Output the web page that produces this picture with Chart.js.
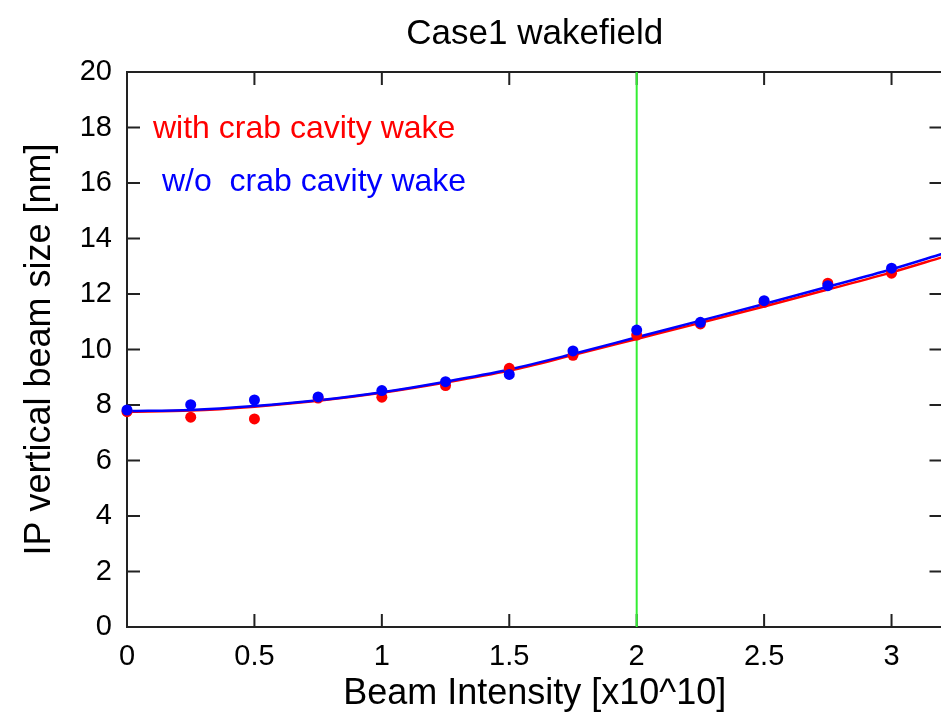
<!DOCTYPE html>
<html>
<head>
<meta charset="utf-8">
<script src="https://cdn.jsdelivr.net/npm/chart.js@4.4.1/dist/chart.umd.min.js"></script>
<style>
  html, body { margin: 0; padding: 0; background: #fff; overflow: hidden; }
  #wrap { width: 948px; height: 720px; position: relative; }
</style>
</head>
<body>
<div id="wrap"><canvas id="wake"></canvas></div>
<script>
// Simulated points (x in 1e10 particles)
const intensity = [0, 0.25, 0.5, 0.75, 1, 1.25, 1.5, 1.75, 2, 2.25, 2.5, 2.75, 3];
const sizeWithWake = [7.76, 7.56, 7.5, 8.25, 8.28, 8.7, 9.32, 9.79, 10.52, 10.92, 11.7, 12.39, 12.75];
const sizeWithoutWake = [7.82, 8.01, 8.18, 8.29, 8.52, 8.84, 9.1, 9.95, 10.7, 10.98, 11.76, 12.3, 12.93];

// Fitted curves
const fitIntensity = [0, 0.25, 0.5, 0.75, 1, 1.25, 1.5, 1.75, 2, 2.25, 2.5, 2.75, 3, 3.2];
const fitWithWake = [7.76, 7.8, 7.94, 8.15, 8.44, 8.81, 9.24, 9.8, 10.38, 10.96, 11.55, 12.16, 12.78, 13.33];
const fitWithoutWake = [7.78, 7.82, 7.96, 8.17, 8.46, 8.84, 9.28, 9.84, 10.44, 11.04, 11.64, 12.26, 12.89, 13.45];

// Vertical marker at the design intensity
const markerIntensity = [2, 2];
const markerSize = [0, 20];

const legendLabels = ['with crab cavity wake', 'w/o  crab cavity wake'];

const FONT = "'Liberation Sans', Arial, Helvetica, sans-serif";
const RED = '#ff0000';
const BLUE = '#0000ff';
const pts = (xs, ys) => xs.map((x, i) => ({ x, y: ys[i] }));

// frame with inward ticks on all sides (under the data), title and text legend
const framePlugin = {
  id: 'frame',
  beforeDatasetsDraw(chart) {
    const { ctx, chartArea: a, scales: { x, y } } = chart;
    const tl = 13;
    ctx.save();
    ctx.strokeStyle = '#222';
    ctx.lineWidth = 2;
    ctx.strokeRect(a.left, a.top, a.right - a.left, a.bottom - a.top);
    ctx.beginPath();
    x.ticks.forEach((t) => {
      const px = x.getPixelForValue(t.value);
      if (px <= a.left + 1) return;
      ctx.moveTo(px, a.bottom); ctx.lineTo(px, a.bottom - tl);
      ctx.moveTo(px, a.top); ctx.lineTo(px, a.top + tl);
    });
    y.ticks.forEach((t) => {
      const py = y.getPixelForValue(t.value);
      if (py >= a.bottom - 1 || py <= a.top + 1) return;
      ctx.moveTo(a.left, py); ctx.lineTo(a.left + tl, py);
      ctx.moveTo(a.right, py); ctx.lineTo(a.right - tl, py);
    });
    ctx.stroke();
    ctx.restore();
  },
  afterDraw(chart) {
    const { ctx, chartArea: a } = chart;
    ctx.save();
    ctx.fillStyle = '#000';
    ctx.font = `35px ${FONT}`;
    ctx.textAlign = 'center';
    ctx.textBaseline = 'alphabetic';
    ctx.fillText('Case1 wakefield', (a.left + a.right) / 2, 44);

    ctx.font = `32px ${FONT}`;
    ctx.textAlign = 'left';
    ctx.fillStyle = RED;
    ctx.fillText(legendLabels[0], 153, 138);
    ctx.fillStyle = BLUE;
    ctx.fillText(legendLabels[1], 162, 191);
    ctx.restore();
  },
};

const chart = new Chart(document.getElementById('wake'), {
  type: 'scatter',
  data: {
    datasets: [
      {
        label: legendLabels[1],
        data: pts(intensity, sizeWithoutWake),
        backgroundColor: BLUE,
        borderColor: BLUE,
        pointRadius: 5.5,
        pointBorderWidth: 0,
        clip: false,
        order: 1,
      },
      {
        label: legendLabels[0],
        data: pts(intensity, sizeWithWake),
        backgroundColor: RED,
        borderColor: RED,
        pointRadius: 5.5,
        pointBorderWidth: 0,
        clip: false,
        order: 2,
      },
      {
        label: 'fit w/o',
        type: 'line',
        data: pts(fitIntensity, fitWithoutWake),
        borderColor: BLUE,
        borderWidth: 2.5,
        pointRadius: 0,
        cubicInterpolationMode: 'monotone',
        order: 3,
      },
      {
        label: 'fit with',
        type: 'line',
        data: pts(fitIntensity, fitWithWake),
        borderColor: RED,
        borderWidth: 2.5,
        pointRadius: 0,
        cubicInterpolationMode: 'monotone',
        order: 4,
      },
      {
        label: 'marker',
        type: 'line',
        data: pts(markerIntensity, markerSize),
        borderColor: '#33ee33',
        borderWidth: 2,
        pointRadius: 0,
        order: 5,
      },
    ],
  },
  options: {
    responsive: true,
    maintainAspectRatio: false,
    animation: false,
    layout: { padding: { top: 72, right: 2, left: 0, bottom: 0 } },
    plugins: {
      legend: { display: false },
      tooltip: { enabled: false },
    },
    scales: {
      x: {
        type: 'linear',
        min: 0,
        max: 3.2,
        grid: { display: false, drawTicks: false },
        border: { display: false },
        ticks: {
          stepSize: 0.5,
          includeBounds: false,
          padding: 13,
          color: '#000',
          font: { family: FONT, size: 29 },
          callback: (v) => `${v}`,
          maxRotation: 0,
        },
        title: {
          display: true,
          text: 'Beam Intensity [x10^10]',
          color: '#000',
          font: { family: FONT, size: 36 },
          padding: { top: 0, bottom: 4 },
        },
        afterFit: (scale) => { scale.height = 93; },
      },
      y: {
        min: 0,
        max: 20,
        grid: { display: false, drawTicks: false },
        border: { display: false },
        ticks: {
          stepSize: 2,
          padding: 15,
          color: '#000',
          font: { family: FONT, size: 29 },
        },
        title: {
          display: true,
          text: 'IP vertical beam size [nm]',
          color: '#000',
          font: { family: FONT, size: 36 },
          padding: { top: 18, bottom: 0 },
        },
        afterFit: (scale) => { scale.width = 127; },
      },
    },
  },
  plugins: [framePlugin],
});
</script>
</body>
</html>
